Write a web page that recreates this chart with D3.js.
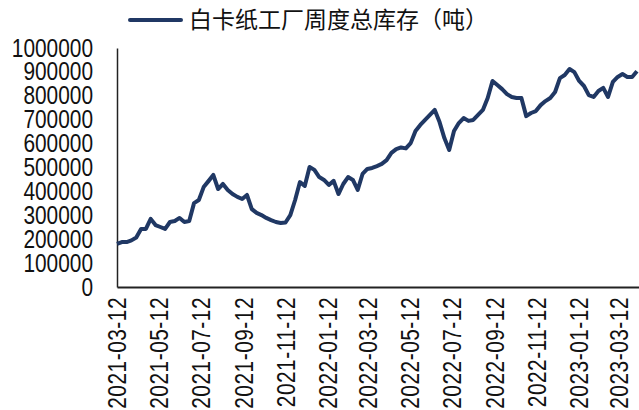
<!DOCTYPE html>
<html>
<head>
<meta charset="utf-8">
<script src="https://cdn.jsdelivr.net/npm/d3@7"></script>
<style>
  body { margin: 0; background: #fff; }
  .tick text { font-family: "Liberation Sans", Arial, sans-serif; font-size: 25px; fill: #111; }
</style>
</head>
<body>
<div id="chart"></div>
<script>
// weekly series, first week 2021-03-12
const seriesName = "白卡纸工厂周度总库存（吨）";
const firstWeek = "2021-03-12";
const stock = [
  180000, 188000, 188000, 195000, 207000, 243000, 243000, 285000, 259000, 251000,
  243000, 272000, 276000, 289000, 272000, 276000, 351000, 364000, 418000, 443000,
  469000, 410000, 431000, 406000, 389000, 377000, 368000, 385000, 326000, 310000,
  301000, 289000, 280000, 272000, 268000, 270000, 301000, 364000, 439000, 423000,
  502000, 490000, 460000, 448000, 427000, 444000, 389000, 431000, 460000, 448000,
  406000, 473000, 494000, 498000, 506000, 515000, 531000, 561000, 577000, 584000,
  580000, 602000, 653000, 678000, 699000, 720000, 741000, 690000, 623000, 573000,
  653000, 686000, 707000, 695000, 699000, 720000, 741000, 791000, 862000, 845000,
  828000, 807000, 795000, 791000, 791000, 715000, 728000, 736000, 761000, 778000,
  791000, 816000, 874000, 887000, 912000, 899000, 862000, 841000, 803000, 795000,
  820000, 833000, 795000, 858000, 879000, 891000, 879000, 879000, 903000
];
const xTickLabels = [
  "2021-03-12", "2021-05-12", "2021-07-12", "2021-09-12", "2021-11-12",
  "2022-01-12", "2022-03-12", "2022-05-12", "2022-07-12", "2022-09-12",
  "2022-11-12", "2023-01-12", "2023-03-12"
];
const yTicks = [0, 100000, 200000, 300000, 400000, 500000, 600000, 700000, 800000, 900000, 1000000];

const width = 639, height = 410;
const margin = { top: 48, right: 0, bottom: 123, left: 117 };
const squeeze = 0.835; // narrow digits like the original font
const parse = d3.timeParse("%Y-%m-%d");
const fmt = d3.timeFormat("%Y-%m-%d");

const start = parse(firstWeek);
const data = stock.map((v, i) => ({ date: d3.timeDay.offset(start, 7 * i), value: v }));

const svg = d3.select("#chart")
  .append("svg")
  .attr("width", width)
  .attr("height", height);

const x = d3.scaleTime()
  .domain([start, parse("2023-04-10")])
  .range([margin.left, width - margin.right]);

const y = d3.scaleLinear()
  .domain([0, 1000000])
  .range([height - margin.bottom, margin.top]);

// x axis
const xAxis = svg.append("g")
  .attr("transform", `translate(0,${y(0)})`)
  .call(d3.axisBottom(x)
    .tickValues(xTickLabels.map(parse))
    .tickFormat(fmt)
    .tickSize(0));
xAxis.select(".domain").attr("stroke", "#222").attr("stroke-width", 2);
xAxis.selectAll(".tick text")
  .attr("transform", `rotate(-90) scale(${squeeze},1)`)
  .attr("text-anchor", "end")
  .attr("letter-spacing", 0.6)
  .attr("x", -10 / squeeze)
  .attr("y", 0)
  .attr("dy", "0.35em");

// y axis
const yAxis = svg.append("g")
  .attr("transform", `translate(${margin.left},0)`)
  .call(d3.axisLeft(y)
    .tickValues(yTicks)
    .tickFormat(d3.format("d"))
    .tickSize(0));
yAxis.select(".domain").attr("stroke", "#222").attr("stroke-width", 1.5);
yAxis.selectAll(".tick text")
  .attr("transform", `scale(${squeeze},1)`)
  .attr("x", -24 / squeeze);

// line
const line = d3.line()
  .x(d => x(d.date))
  .y(d => y(d.value));

svg.append("path")
  .datum(data)
  .attr("fill", "none")
  .attr("stroke", "#203864")
  .attr("stroke-width", 4)
  .attr("stroke-linejoin", "round")
  .attr("d", line);

// legend
const legend = svg.append("g").attr("transform", "translate(130,20)");
legend.append("line")
  .attr("x1", 0).attr("x2", 51)
  .attr("stroke", "#203864")
  .attr("stroke-width", 4)
  .attr("stroke-linecap", "round");
legend.append("text")
  .attr("x", 59)
  .attr("dy", "0.36em")
  .attr("font-family", "'Noto Sans CJK SC', sans-serif")
  .attr("font-size", 23)
  .attr("fill", "#111")
  .text(seriesName);
</script>
</body>
</html>
